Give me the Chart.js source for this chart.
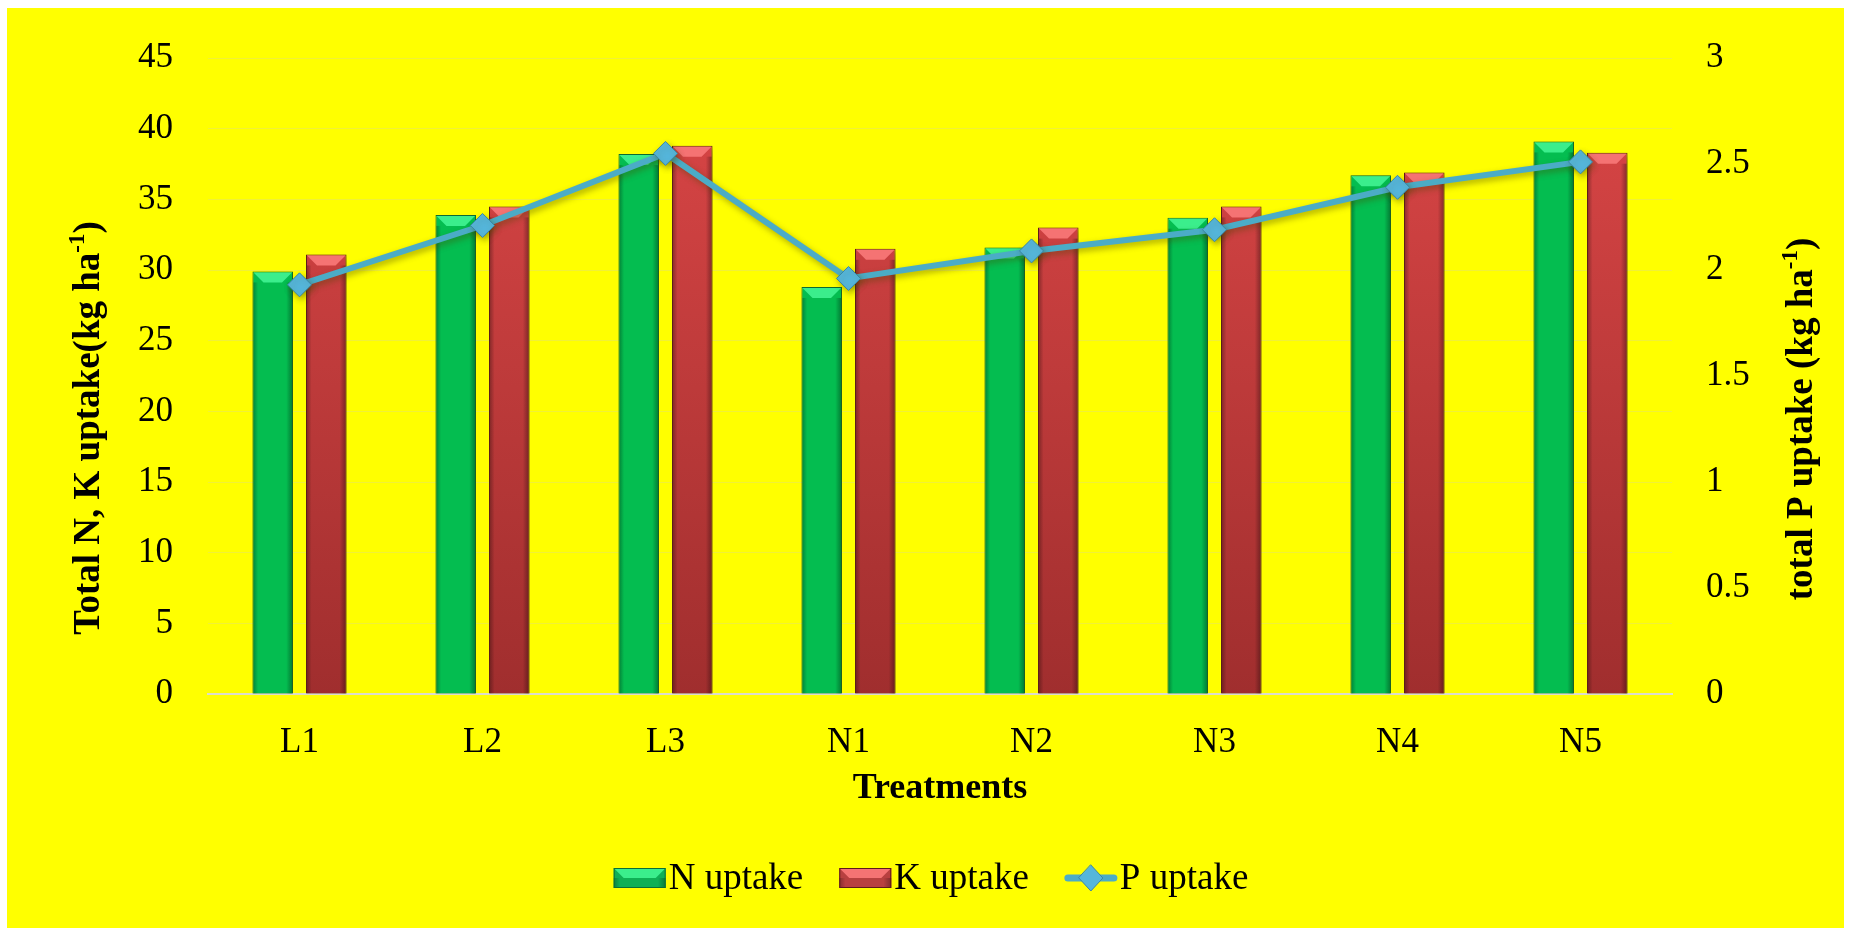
<!DOCTYPE html>
<html>
<head>
<meta charset="utf-8">
<script src="https://cdn.jsdelivr.net/npm/chart.js@4.4.1/dist/chart.umd.min.js"></script>
<style>
  html, body { margin: 0; padding: 0; background: #fff; }
  canvas { display: block; }
</style>
</head>
<body>
<canvas id="uptakeChart" width="1851" height="936"></canvas>
<script>
const treatments = ["L1", "L2", "L3", "N1", "N2", "N3", "N4", "N5"]
const nUptake = [29.9, 33.9, 38.2, 28.8, 31.6, 33.7, 36.7, 39.1]
const kUptake = [31.1, 34.5, 38.8, 31.5, 33.0, 34.5, 36.9, 38.3]
const pUptake = [1.93, 2.21, 2.55, 1.96, 2.09, 2.19, 2.39, 2.51]

const serif = "'Liberation Serif', 'Times New Roman', serif"
Chart.defaults.font.family = serif
Chart.defaults.color = "#000"

// red bars darken towards the baseline
function redFill(c) {
    const area = c.chart.chartArea
    if (!area) return "#C83E3E"
    const g = c.chart.ctx.createLinearGradient(0, area.top, 0, area.bottom)
    g.addColorStop(0, "#DC4747")
    g.addColorStop(1, "#A02E2E")
    return g
}

// yellow page with thin white margin
const page = {
    id: "page",
    beforeDraw(chart) {
        const ctx = chart.ctx
        ctx.save()
        ctx.fillStyle = "#fff"
        ctx.fillRect(0, 0, chart.width, chart.height)
        ctx.fillStyle = "#FFFF00"
        ctx.fillRect(7, 8, chart.width - 14, chart.height - 16)
        ctx.restore()
    },
}

function bevelBar(ctx, l, top, w, bottom, ds) {
    const d = Math.min(10, w / 3)
    const r = l + w
    ctx.beginPath()
    ctx.moveTo(l, top)
    ctx.lineTo(r, top)
    ctx.lineTo(r - d, top + d)
    ctx.lineTo(l + d, top + d)
    ctx.closePath()
    ctx.fillStyle = ds.bevelColor
    ctx.fill()
    const g = ctx.createLinearGradient(l, 0, r, 0)
    g.addColorStop(0, "rgba(0,0,0,0.28)")
    g.addColorStop(0.12, "rgba(0,0,0,0)")
    g.addColorStop(0.85, "rgba(0,0,0,0)")
    g.addColorStop(1, "rgba(0,0,0,0.32)")
    ctx.fillStyle = g
    ctx.fillRect(l, top + d, w, bottom - top - d)
}

// drop shadows for every series, bevelled tops for the bars
const shade = {
    id: "shade",
    beforeDatasetDraw(chart) {
        const ctx = chart.ctx
        ctx.save()
        ctx.shadowColor = "rgba(70,70,0,0.45)"
        ctx.shadowBlur = 6
        ctx.shadowOffsetX = 2
        ctx.shadowOffsetY = 3
    },
    afterDatasetDraw(chart, args) {
        const ctx = chart.ctx
        ctx.restore()
        const ds = chart.data.datasets[args.index]
        if (ds.type !== "bar") return
        ctx.save()
        args.meta.data.forEach(bar => {
            const p = bar.getProps(["x", "y", "base", "width"], true)
            bevelBar(ctx, p.x - p.width / 2 + 1, p.y + 1, p.width - 2, p.base, ds)
        })
        ctx.restore()
    },
}

function drawRotated(ctx, parts, cx, cy, size) {
    const main = "bold " + size + "px " + serif
    const sup = "bold " + Math.round(size * 0.62) + "px " + serif
    ctx.save()
    ctx.translate(cx, cy)
    ctx.rotate(-Math.PI / 2)
    ctx.fillStyle = "#000"
    ctx.textBaseline = "alphabetic"
    ctx.textAlign = "left"
    let total = 0
    parts.forEach(([t, s]) => { ctx.font = s ? sup : main; total += ctx.measureText(t).width })
    let x = -total / 2
    const base = size * 0.24
    parts.forEach(([t, s]) => {
        ctx.font = s ? sup : main
        ctx.fillText(t, x, s ? base - size * 0.4 : base)
        x += ctx.measureText(t).width
    })
    ctx.restore()
}

const axisTitles = {
    id: "axisTitles",
    afterDraw(chart) {
        const a = chart.chartArea
        const mid = (a.top + a.bottom) / 2
        drawRotated(chart.ctx, [["Total N, K uptake(kg ha", false], ["-1", true], [")", false]], 90, mid + 52, 37)
        drawRotated(chart.ctx, [["total P uptake (kg ha", false], ["-1", true], [")", false]], a.right + 131, mid + 43, 37)
    },
}

const legendRow = {
    id: "legendRow",
    afterDraw(chart) {
        const ctx = chart.ctx
        const a = chart.chartArea
        const cy = a.bottom + 184
        const sw = 52, textGap = 3, itemGap = 36
        ctx.save()
        ctx.font = "37px " + serif
        const sets = chart.data.datasets
        const widths = sets.map(d => sw + textGap + ctx.measureText(d.label).width)
        const total = widths.reduce((s, w) => s + w, 0) + itemGap * (sets.length - 1)
        let x = (a.left + a.right) / 2 - total / 2 - 9
        sets.forEach((d, i) => {
            if (d.type === "bar") {
                ctx.fillStyle = d.swatchColor
                ctx.fillRect(x, cy - 10, sw, 20)
                bevelBar(ctx, x, cy - 10, sw, cy + 10, d)
                ctx.strokeStyle = d.borderColor
                ctx.lineWidth = 1
                ctx.strokeRect(x + 0.5, cy - 9.5, sw - 1, 19)
            } else {
                ctx.strokeStyle = d.borderColor
                ctx.lineWidth = 7
                ctx.lineCap = "round"
                ctx.beginPath()
                ctx.moveTo(x + 3, cy)
                ctx.lineTo(x + sw - 3, cy)
                ctx.stroke()
                ctx.beginPath()
                ctx.moveTo(x + sw / 2, cy - 13)
                ctx.lineTo(x + sw / 2 + 12, cy)
                ctx.lineTo(x + sw / 2, cy + 13)
                ctx.lineTo(x + sw / 2 - 12, cy)
                ctx.closePath()
                ctx.fillStyle = d.pointBackgroundColor
                ctx.fill()
                ctx.strokeStyle = d.pointBorderColor
                ctx.lineWidth = 1
                ctx.stroke()
            }
            ctx.fillStyle = "#000"
            ctx.textBaseline = "middle"
            ctx.textAlign = "left"
            ctx.fillText(d.label, x + sw + textGap, cy + 1)
            x += widths[i] + itemGap
        })
        ctx.restore()
    },
}

const ctx = document.getElementById("uptakeChart").getContext("2d")
new Chart(ctx, {
    data: {
        labels: treatments,
        datasets: [
            {
                type: "bar",
                label: "N uptake",
                data: nUptake,
                yAxisID: "y",
                order: 2,
                backgroundColor: "#04BD50",
                swatchColor: "#0FB055",
                bevelColor: "#3BEE8C",
                borderColor: "#0B6E36",
                borderWidth: 1,
                categoryPercentage: 0.585,
                barPercentage: 0.757,
            },
            {
                type: "bar",
                label: "K uptake",
                data: kUptake,
                yAxisID: "y",
                order: 2,
                backgroundColor: redFill,
                swatchColor: "#B84040",
                bevelColor: "#F57373",
                borderColor: "#5E1A1A",
                borderWidth: 1,
                categoryPercentage: 0.585,
                barPercentage: 0.757,
            },
            {
                type: "line",
                label: "P uptake",
                data: pUptake,
                yAxisID: "y1",
                order: 1,
                borderColor: "#4BACC6",
                borderWidth: 6,
                pointStyle: "rectRot",
                pointRadius: 12,
                pointBackgroundColor: "#55B6DB",
                pointBorderColor: "#3A86A6",
                pointBorderWidth: 1,
                tension: 0,
            },
        ],
    },
    options: {
        responsive: false,
        animation: false,
        devicePixelRatio: 1,
        layout: { padding: { top: 58, bottom: 126, left: 0, right: 0 } },
        plugins: {
            legend: { display: false },
            tooltip: { enabled: false },
        },
        scales: {
            x: {
                z: 1,
                grid: { display: false, drawTicks: false },
                border: { display: true, color: "#DCDCCC", width: 2 },
                ticks: { font: { size: 35 }, padding: 28 },
                title: {
                    display: true,
                    text: "Treatments",
                    font: { size: 36, weight: "bold" },
                    padding: 0,
                },
                afterFit(s) { s.height = 116 },
            },
            y: {
                position: "left",
                min: 0,
                max: 45,
                ticks: { stepSize: 5, font: { size: 35 }, padding: 35 },
                grid: { color: "rgba(200,200,200,0.28)", lineWidth: 1, drawTicks: false },
                border: { display: false },
                afterFit(s) { s.width = 208 },
            },
            y1: {
                position: "right",
                min: 0,
                max: 3,
                ticks: {
                    stepSize: 0.5,
                    font: { size: 35 },
                    padding: 34,
                    callback: v => String(Math.round(v * 10) / 10),
                },
                grid: { display: false, drawTicks: false },
                border: { display: false },
                afterFit(s) { s.width = 179 },
            },
        },
    },
    plugins: [page, shade, axisTitles, legendRow],
})
</script>
</body>
</html>
